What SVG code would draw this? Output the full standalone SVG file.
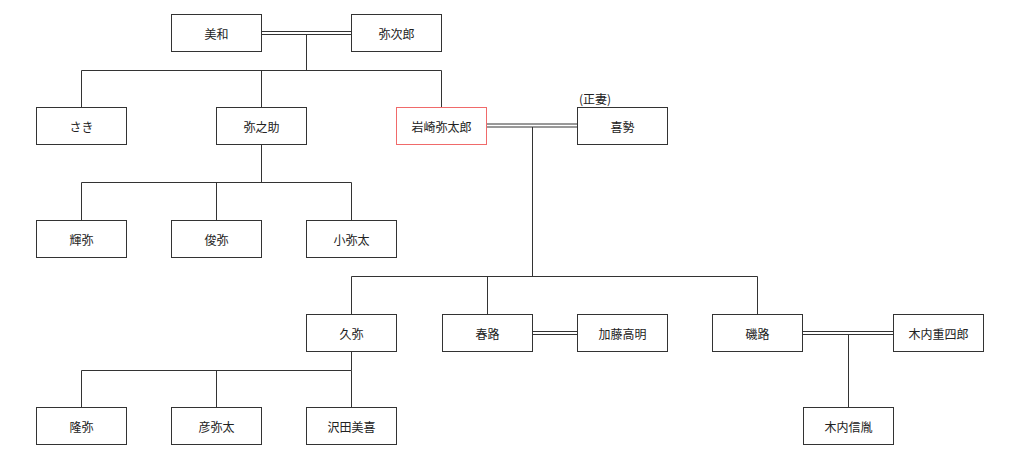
<svg xmlns="http://www.w3.org/2000/svg" width="1024" height="453" viewBox="0 0 1024 453">
<style>
.n rect{fill:#ffffff;stroke:#333333;stroke-width:1}
.n.hl rect{stroke:#f06a6a}
.n text,.lbl{font-family:"Noto Sans CJK JP","Liberation Sans",sans-serif;font-size:12px;fill:#222222;text-anchor:middle;dominant-baseline:central}
.lbl{text-anchor:start}
#connectors path{fill:none;stroke:#333333;stroke-width:1}
</style>
<rect width="1024" height="453" fill="#ffffff"/>
<g id="connectors">
<path d="M261,31.5H351M261,34.5H351"/>
<path d="M306.5,34.5V70.5M81.5,70.5H441.5M81.5,70.5V107M261.5,70.5V107M441.5,70.5V107"/>
<path d="M486,124H577M486,127H577"/>
<path d="M532.5,127V276.5M351.5,276.5H757.5M351.5,276.5V314M487.5,276.5V314M757.5,276.5V314"/>
<path d="M261.5,145V182.5M81.5,182.5H351.5M81.5,182.5V220M216.5,182.5V220M351.5,182.5V220"/>
<path d="M532,331.5H577M532,334.5H577"/>
<path d="M802,331.5H893M802,334.5H893"/>
<path d="M848.5,334.5V407"/>
<path d="M351.5,351V370.5M81.5,370.5H351.5M81.5,370.5V407M216.5,370.5V407M351.5,370.5V407"/>
</g>
<g id="n-miwa" class="n"><rect x="171.5" y="14.5" width="90" height="37"/><text x="216.5" y="33">美和</text></g>
<g id="n-yajiro" class="n"><rect x="351.5" y="14.5" width="90" height="37"/><text x="396.5" y="33">弥次郎</text></g>
<g id="n-saki" class="n"><rect x="36.5" y="107.5" width="90" height="37"/><text x="81.5" y="126">さき</text></g>
<g id="n-yanosuke" class="n"><rect x="216.5" y="107.5" width="90" height="37"/><text x="261.5" y="126">弥之助</text></g>
<g id="n-yataro" class="n hl"><rect x="396.5" y="107.5" width="90" height="37"/><text x="441.5" y="126">岩崎弥太郎</text></g>
<g id="n-kise" class="n"><rect x="577.5" y="107.5" width="90" height="37"/><text x="622.5" y="126">喜勢</text></g>
<text class="lbl" x="579" y="98">(正妻)</text>
<g id="n-teruya" class="n"><rect x="36.5" y="220.5" width="90" height="37"/><text x="81.5" y="239">輝弥</text></g>
<g id="n-toshiya" class="n"><rect x="171.5" y="220.5" width="90" height="37"/><text x="216.5" y="239">俊弥</text></g>
<g id="n-koyata" class="n"><rect x="306.5" y="220.5" width="90" height="37"/><text x="351.5" y="239">小弥太</text></g>
<g id="n-hisaya" class="n"><rect x="306.5" y="314.5" width="90" height="37"/><text x="351.5" y="333">久弥</text></g>
<g id="n-haruji" class="n"><rect x="442.5" y="314.5" width="90" height="37"/><text x="487.5" y="333">春路</text></g>
<g id="n-kato" class="n"><rect x="577.5" y="314.5" width="90" height="37"/><text x="622.5" y="333">加藤高明</text></g>
<g id="n-isoji" class="n"><rect x="712.5" y="314.5" width="90" height="37"/><text x="757.5" y="333">磯路</text></g>
<g id="n-kiuchi" class="n"><rect x="893.5" y="314.5" width="90" height="37"/><text x="938.5" y="333">木内重四郎</text></g>
<g id="n-takaya" class="n"><rect x="36.5" y="407.5" width="90" height="37"/><text x="81.5" y="426">隆弥</text></g>
<g id="n-hikoyata" class="n"><rect x="171.5" y="407.5" width="90" height="37"/><text x="216.5" y="426">彦弥太</text></g>
<g id="n-sawada" class="n"><rect x="306.5" y="407.5" width="90" height="37"/><text x="351.5" y="426">沢田美喜</text></g>
<g id="n-nobutane" class="n"><rect x="803.5" y="407.5" width="90" height="37"/><text x="848.5" y="426">木内信胤</text></g>
</svg>
